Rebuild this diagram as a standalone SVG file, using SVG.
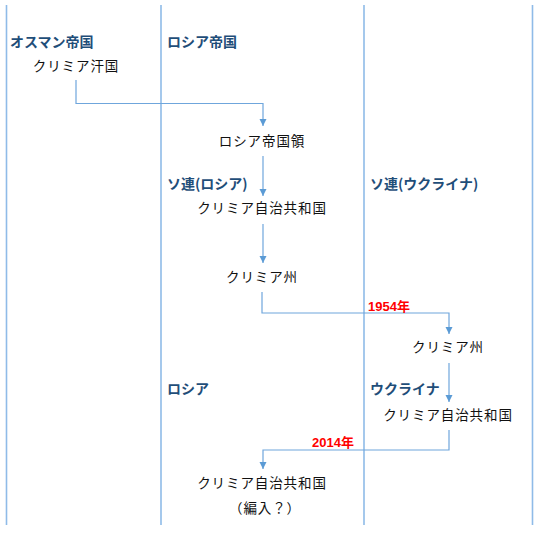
<svg xmlns="http://www.w3.org/2000/svg" width="540" height="535" viewBox="0 0 540 535">
<style>
.lane{stroke:#8fbbe8;stroke-width:1.6;fill:none}
.conn{stroke:#6fa6dc;stroke-width:1.2;fill:none}
.hdr{font-family:"Noto Sans CJK JP","Liberation Sans",sans-serif;font-weight:bold;font-size:14px;fill:#1f4e79}
.lbl{font-family:"Noto Sans CJK JP",sans-serif;font-size:13.5px;fill:#111;letter-spacing:0.9px;text-anchor:middle}
.yr{font-family:"Liberation Sans","Noto Sans CJK JP",sans-serif;font-weight:bold;font-size:13px;fill:#ff0000}
</style>
<defs>
<marker id="ah" markerWidth="8" markerHeight="8" refX="7" refY="4" orient="auto" markerUnits="userSpaceOnUse">
<path d="M0,0.5 L7,4 L0,7.5 Z" fill="#5b9bd5"/>
</marker>
</defs>
<rect width="540" height="535" fill="#fff"/>
<g id="lanes">
<line class="lane" x1="6.5" y1="5" x2="6.5" y2="525"/>
<line class="lane" x1="161" y1="5" x2="161" y2="525"/>
<line class="lane" x1="364" y1="5" x2="364" y2="525"/>
<line class="lane" x1="532.5" y1="5" x2="532.5" y2="525"/>
</g>
<g id="headers">
<text class="hdr" x="10" y="47">オスマン帝国</text>
<text class="hdr" x="167" y="47">ロシア帝国</text>
<text class="hdr" x="167" y="189">ソ連(ロシア)</text>
<text class="hdr" x="370" y="189">ソ連(ウクライナ)</text>
<text class="hdr" x="167" y="394">ロシア</text>
<text class="hdr" x="370" y="394">ウクライナ</text>
</g>
<g id="connectors">
<polyline class="conn" points="76,80 76,103.5 263,103.5 263,126" marker-end="url(#ah)"/>
<line class="conn" x1="263" y1="156" x2="263" y2="196" marker-end="url(#ah)"/>
<line class="conn" x1="263" y1="224" x2="263" y2="263" marker-end="url(#ah)"/>
<polyline class="conn" points="262,292 262,313 449,313 449,334" marker-end="url(#ah)"/>
<line class="conn" x1="449" y1="363" x2="449" y2="402" marker-end="url(#ah)"/>
<polyline class="conn" points="449,430 449,450 263,450 263,469" marker-end="url(#ah)"/>
</g>
<g id="n1"><text class="lbl" x="76" y="71">クリミア汗国</text></g>
<g id="n2"><text class="lbl" x="262" y="146">ロシア帝国領</text></g>
<g id="n3"><text class="lbl" x="262" y="213">クリミア自治共和国</text></g>
<g id="n4"><text class="lbl" x="262" y="282">クリミア州</text></g>
<g id="n5"><text class="lbl" x="448" y="352">クリミア州</text></g>
<g id="n6"><text class="lbl" x="448" y="420">クリミア自治共和国</text></g>
<g id="n7"><text class="lbl" x="262" y="488">クリミア自治共和国</text><text class="lbl" x="265" y="513">（編入？）</text></g>
<g id="years">
<text class="yr" x="368" y="311">1954年</text>
<text class="yr" x="312" y="447">2014年</text>
</g>
</svg>
